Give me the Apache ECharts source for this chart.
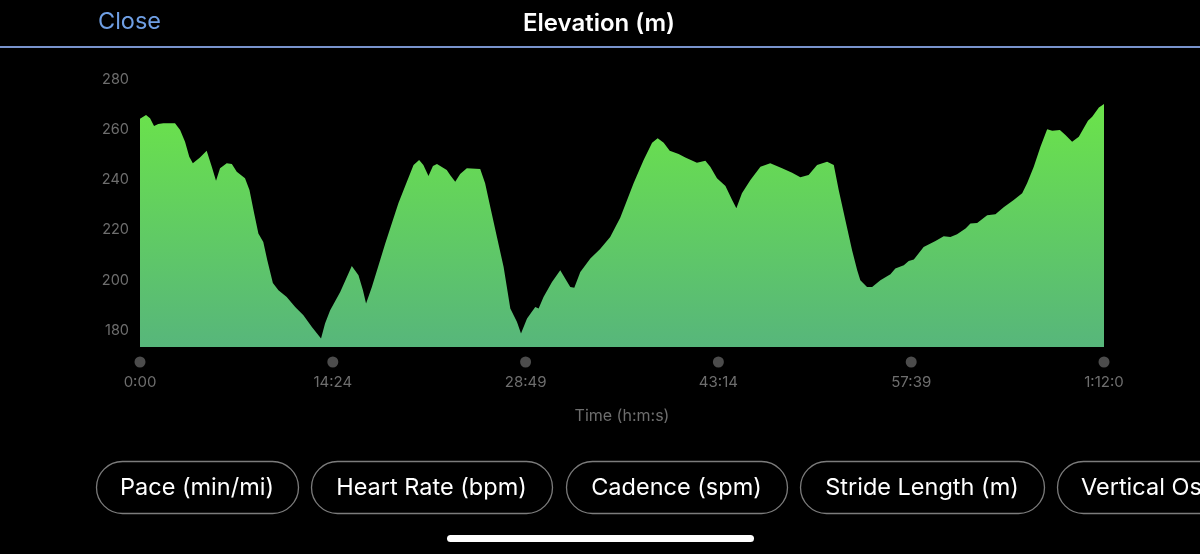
<!DOCTYPE html>
<html>
<head>
<meta charset="utf-8">
<title>Elevation (m)</title>
<script src="https://cdn.jsdelivr.net/npm/echarts@6/dist/echarts.min.js"></script>
<style>
    html, body { margin: 0; padding: 0; background: #000; }
    #elevChart { width: 1200px; height: 554px; }
</style>
</head>
<body>
<div id="elevChart"></div>
<script>
// elapsed time in seconds
var times = [0, 4, 27, 45, 63, 82, 105, 157, 180, 202, 221, 237, 269, 299, 322, 341, 359, 389, 412, 434,
    471, 491, 512, 531, 553, 571, 596, 621, 658, 696, 733, 771, 812, 830, 853, 898, 928, 950, 980, 1000,
    1014, 1040, 1077, 1100, 1159, 1197, 1227, 1252, 1271, 1294, 1314, 1332, 1376, 1391, 1414, 1436, 1466, 1526, 1548, 1571,
    1601, 1631, 1661, 1691, 1709, 1736, 1773, 1788, 1810, 1848, 1885, 1907, 1930, 1948, 1975, 2020, 2064, 2109, 2154, 2214,
    2259, 2297, 2322, 2349, 2376, 2416, 2446, 2498, 2536, 2558, 2588, 2626, 2656, 2675, 2700, 2738, 2783, 2827, 2880, 2925,
    2962, 2999, 3037, 3082, 3112, 3134, 3164, 3194, 3217, 3231, 3261, 3284, 3321, 3366, 3388, 3426, 3448, 3471, 3515, 3568,
    3605, 3635, 3665, 3703, 3725, 3755, 3800, 3837, 3874, 3919, 3957, 3979, 4009, 4039, 4069, 4092, 4126, 4151, 4181, 4211,
    4252, 4271, 4301, 4324];
// elevation in metres
var elevation = [264.5, 264.7, 266, 264.7, 261.6, 262.4, 262.7, 262.7, 260, 255.3, 249.3, 246.7, 249, 251.7, 245.3, 239.7, 244.7, 246.7, 246.4, 243.3,
    240.7, 236, 226.7, 218.7, 215.3, 208, 198.9, 196, 193.3, 189.3, 186, 181.3, 176.7, 182.7, 188, 195.3, 201.3, 205.7, 202, 196,
    190.7, 197.3, 208, 214.7, 230.7, 239.3, 246, 248, 246, 241.6, 245.6, 246.4, 244, 242, 239.3, 242.4, 244.7, 244.4, 238.7, 229.3,
    217.3, 205.3, 188.7, 183.3, 178.7, 184.7, 189.3, 188.7, 193.3, 199.3, 204, 200.7, 197.3, 197, 203.3, 208.7, 212.5, 217.3, 225, 238.7,
    248, 254.9, 256.7, 254.9, 251.7, 250.4, 249, 246.9, 247.7, 245.3, 240.7, 237.6, 232, 228.7, 234.7, 240, 245.3, 246.7, 244.7, 242.9,
    241.1, 242, 246, 247.3, 246, 236, 224, 212, 204, 200, 197.3, 197.3, 200, 202.4, 204.7, 206, 207.7, 208.3, 213.3, 215.7,
    217.6, 217.3, 218.4, 220.7, 222.7, 222.9, 226, 226.4, 229.1, 232, 234.7, 238.7, 245.3, 253.3, 260.3, 259.7, 260, 258, 255.3, 257.3,
    263.7, 265.3, 269, 270.4];

var yTicks = [180, 200, 220, 240, 260, 280];
var xTickValues = [0, 864.8, 1729.6, 2594.4, 3459.2, 4324];
var xTickLabels = ['0:00', '14:24', '28:49', '43:14', '57:39', '1:12:0'];
var metricButtons = ['Pace (min/mi)', 'Heart Rate (bpm)', 'Cadence (spm)', 'Stride Length (m)', 'Vertical Oscillation (cm)'];

var elevChart = echarts.init(document.getElementById('elevChart'));

var seriesData = times.map(function (t, i) { return [t, elevation[i]]; });
var dotData = xTickValues.map(function (t) { return [t, 0.5]; });

function tickLabel(value) {
    var best = 0;
    for (var i = 1; i < xTickValues.length; i++) {
        if (Math.abs(xTickValues[i] - value) < Math.abs(xTickValues[best] - value)) best = i;
    }
    return xTickLabels[best];
}

// pill buttons along the bottom
var btnBoxes = [[96, 202], [311, 241], [566, 221], [800, 244], [1057, 260]];
var btnGraphics = [];
btnBoxes.forEach(function (b, i) {
    btnGraphics.push({
        type: 'rect',
        shape: {x: b[0] + 0.5, y: 461.5, width: b[1], height: 52, r: 26},
        style: {fill: 'transparent', stroke: '#7c7c7c', lineWidth: 1.3}
    });
    var last = i === btnBoxes.length - 1;
    btnGraphics.push({
        type: 'text',
        x: last ? b[0] + 24 : b[0] + b[1] / 2,
        y: 488,
        style: {
            text: metricButtons[i],
            fill: '#ffffff',
            font: '23.5px Inter',
            align: last ? 'left' : 'center',
            verticalAlign: 'middle'
        }
    });
});

var option = {
    backgroundColor: '#000000',
    animation: false,
    graphic: [
        {type: 'text', x: 98, y: 22, style: {text: 'Close', fill: '#6f9fe4', font: '23.5px Inter', verticalAlign: 'middle'}},
        {type: 'text', x: 599, y: 24, style: {text: 'Elevation (m)', fill: '#ffffff', font: '600 24px Inter', align: 'center', verticalAlign: 'middle'}},
        {type: 'rect', shape: {x: 0, y: 46, width: 1200, height: 2}, style: {fill: '#7893cc'}},
        {type: 'rect', shape: {x: 447, y: 535, width: 307, height: 7, r: 3.5}, style: {fill: '#ffffff'}}
    ].concat(btnGraphics),
    grid: [
        {left: 140, right: 96, top: 80, height: 267},
        {left: 140, right: 96, top: 352, height: 20}
    ],
    xAxis: [
        {type: 'value', gridIndex: 0, min: 0, max: 4324, show: false},
        {
            type: 'value', gridIndex: 1, min: 0, max: 4324,
            name: 'Time (h:m:s)',
            nameLocation: 'middle',
            nameGap: 36,
            nameTextStyle: {color: '#6e6e6e', fontSize: 16, fontFamily: 'Inter'},
            axisLine: {show: false},
            axisTick: {show: false},
            splitLine: {show: false},
            axisLabel: {
                customValues: xTickValues,
                formatter: tickLabel,
                color: '#6e6e6e',
                fontSize: 15,
                fontFamily: 'Inter',
                margin: 3
            }
        }
    ],
    yAxis: [
        {
            type: 'value', gridIndex: 0, min: 173.3, max: 280,
            axisLine: {show: false},
            axisTick: {show: false},
            splitLine: {show: false},
            axisLabel: {
                customValues: yTicks,
                color: '#6e6e6e',
                fontSize: 14.5,
                fontFamily: 'Inter',
                margin: 11
            }
        },
        {type: 'value', gridIndex: 1, min: 0, max: 1, show: false}
    ],
    series: [
        {
            name: 'Elevation',
            type: 'line',
            xAxisIndex: 0,
            yAxisIndex: 0,
            data: seriesData,
            showSymbol: false,
            lineStyle: {width: 0},
            areaStyle: {
                opacity: 1,
                color: new echarts.graphic.LinearGradient(0, 0, 0, 1, [
                    {offset: 0, color: '#6be34a'},
                    {offset: 1, color: '#57b67b'}
                ]),
                origin: 'start'
            }
        },
        {
            name: 'ticks',
            type: 'scatter',
            xAxisIndex: 1,
            yAxisIndex: 1,
            data: dotData,
            symbolSize: 11,
            itemStyle: {color: '#5f5f5f'},
            silent: true
        }
    ]
};

elevChart.setOption(option);
</script>
</body>
</html>
